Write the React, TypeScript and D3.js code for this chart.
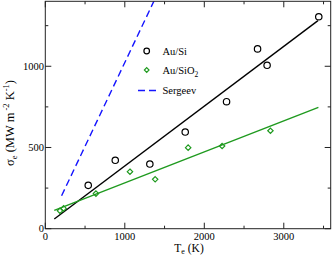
import React from 'react';
import * as d3 from 'd3';

// Au/Si measurements (circles)
const siT = [540, 880, 1315, 1760, 2280, 2670, 2790, 3440];
const siSigma = [267, 421, 398, 595, 782, 1107, 1006, 1305];
// Au/SiO2 measurements (diamonds)
const sio2T = [185, 230, 637, 1065, 1382, 1797, 2224, 2832];
const sio2Sigma = [110, 125, 216, 351, 304, 499, 509, 603];
// linear fits and Sergeev model
const siFitT = [113, 3430];
const siFitSigma = [60, 1281];
const sio2FitT = [113, 3435];
const sio2FitSigma = [113, 747];
const sergeevT = [205, 1375];
const sergeevSigma = [203, 1410];

const xTicks = [0, 1000, 2000, 3000];
const yTicks = [0, 500, 1000];
const xMinor = [500, 1500, 2500, 3500];
const yMinor = [250, 750, 1250];

const W = 333, H = 257;
const m = { left: 45.3, top: 1.3, right: 330.7, bottom: 228.7 };
const font = '"Liberation Serif", "Times New Roman", serif';

export default function App() {
  const x = d3.scaleLinear().domain([0, 3590]).range([m.left, m.right]);
  const y = d3.scaleLinear().domain([0, 1400]).range([m.bottom, m.top]);
  const line = d3.line<[number, number]>().x(d => x(d[0])).y(d => y(d[1]));
  const pairs = (a: number[], b: number[]) => a.map((v, i) => [v, b[i]] as [number, number]);
  const green = '#1f9a1f';

  return (
    <svg width={W} height={H} style={{ position: 'absolute', left: 0, top: 0, background: '#fff' }}
      fontFamily={font} fontSize={10.5}>
      <defs>
        <clipPath id="plot">
          <rect x={m.left} y={m.top} width={m.right - m.left} height={m.bottom - m.top} />
        </clipPath>
      </defs>
      <rect width={W} height={H} fill="#fff" />
      <g clipPath="url(#plot)">
        <path d={line(pairs(sergeevT, sergeevSigma)) || ''} fill="none" stroke="#1515ff" strokeWidth={1.4} strokeDasharray="7,4" />
        <path d={line(pairs(siFitT, siFitSigma)) || ''} fill="none" stroke="#000" strokeWidth={1.4} />
        <path d={line(pairs(sio2FitT, sio2FitSigma)) || ''} fill="none" stroke={green} strokeWidth={1.4} />
        {siT.map((t, i) => (
          <circle key={'s' + i} cx={x(t)} cy={y(siSigma[i])} r={3.2} fill="none" stroke="#000" strokeWidth={1.2} />
        ))}
        {sio2T.map((t, i) => {
          const cx = x(t), cy = y(sio2Sigma[i]), r = 2.7;
          return <path key={'o' + i} d={`M${cx},${cy - r}L${cx + r},${cy}L${cx},${cy + r}L${cx - r},${cy}Z`}
            fill="none" stroke={green} strokeWidth={1.2} />;
        })}
      </g>
      <rect x={m.left} y={m.top} width={m.right - m.left} height={m.bottom - m.top} fill="none" stroke="#222" strokeWidth={1} />
      {xTicks.map(t => (
        <g key={'xt' + t}>
          <line x1={x(t)} x2={x(t)} y1={m.bottom} y2={m.bottom - 6} stroke="#222" />
          <line x1={x(t)} x2={x(t)} y1={m.top} y2={m.top + 6} stroke="#222" />
          <text x={x(t)} y={239.5} textAnchor="middle">{t}</text>
        </g>
      ))}
      {xMinor.map(t => (
        <g key={'xm' + t}>
          <line x1={x(t)} x2={x(t)} y1={m.bottom} y2={m.bottom - 3} stroke="#222" />
          <line x1={x(t)} x2={x(t)} y1={m.top} y2={m.top + 3} stroke="#222" />
        </g>
      ))}
      {yTicks.map(t => (
        <g key={'yt' + t}>
          <line x1={m.left} x2={m.left + 6} y1={y(t)} y2={y(t)} stroke="#222" />
          <line x1={m.right} x2={m.right - 6} y1={y(t)} y2={y(t)} stroke="#222" />
          <text x={44} y={y(t) + 3.5} textAnchor="end">{t}</text>
        </g>
      ))}
      {yMinor.map(t => (
        <g key={'ym' + t}>
          <line x1={m.left} x2={m.left + 3} y1={y(t)} y2={y(t)} stroke="#222" />
          <line x1={m.right} x2={m.right - 3} y1={y(t)} y2={y(t)} stroke="#222" />
        </g>
      ))}
      <text x={189} y={251.5} textAnchor="middle" fontSize={11.5}>
        T<tspan fontSize={8} dy={2.5}>e</tspan><tspan dy={-2.5}> (K)</tspan>
      </text>
      <text transform="translate(14,123) rotate(-90)" textAnchor="middle" fontSize={12.5}>
        σ<tspan fontSize={8.5} dy={3}>e</tspan><tspan dy={-3}> (MW m</tspan><tspan fontSize={8.5} dy={-5}> -2</tspan><tspan dy={5}> K</tspan><tspan fontSize={8.5} dy={-5}>-1</tspan><tspan dy={5}>)</tspan>
      </text>
      <g>
        <circle cx={146.7} cy={51} r={2.8} fill="none" stroke="#000" strokeWidth={1.2} />
        <text x={162.5} y={55}>Au/Si</text>
        <path d={`M146.7,67.7L149,70L146.7,72.3L144.4,70Z`} fill="none" stroke={green} strokeWidth={1.2} />
        <text x={162.5} y={74}>Au/SiO<tspan fontSize={7.5} dy={3}>2</tspan></text>
        <line x1={138} x2={158} y1={90.5} y2={90.5} stroke="#1515ff" strokeWidth={1.4} strokeDasharray="7,4" />
        <text x={162.5} y={94}>Sergeev</text>
      </g>
    </svg>
  );
}
